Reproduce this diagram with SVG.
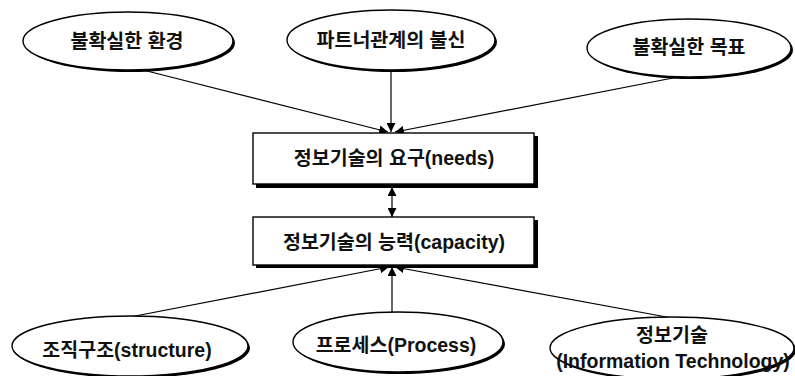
<svg xmlns="http://www.w3.org/2000/svg" width="795" height="376" viewBox="0 0 795 376">
<style>
.sh{fill:#000}
.el{fill:#fff;stroke:#000;stroke-width:1.4}
.bx{fill:#fff;stroke:#000;stroke-width:1.4}
.t{font-family:"Liberation Sans","Noto Sans CJK KR",sans-serif;font-size:19.5px;font-weight:bold;fill:#111;text-anchor:middle;dominant-baseline:central}
.c{stroke:#000;stroke-width:1.2;fill:none}
</style>
<defs>
<marker id="ah" viewBox="0 0 10 10" refX="10" refY="5" markerWidth="9" markerHeight="9" markerUnits="userSpaceOnUse" orient="auto-start-reverse">
<path d="M0,0 L10,5 L0,10 z" fill="#000"/>
</marker>
</defs>
<g id="connectors">
<line class="c" x1="143" y1="70" x2="388" y2="132" marker-end="url(#ah)"/>
<line class="c" x1="391" y1="71" x2="391" y2="132" marker-end="url(#ah)"/>
<line class="c" x1="678" y1="77" x2="395" y2="132" marker-end="url(#ah)"/>
<line class="c" x1="392" y1="187" x2="392" y2="217" marker-start="url(#ah)" marker-end="url(#ah)"/>
<line class="c" x1="130" y1="317" x2="389" y2="267" marker-end="url(#ah)"/>
<line class="c" x1="392" y1="312" x2="392" y2="267" marker-end="url(#ah)"/>
<line class="c" x1="672" y1="318" x2="395" y2="267" marker-end="url(#ah)"/>
</g>
<g id="n1">
<ellipse class="sh" cx="130" cy="43" rx="105" ry="29"/>
<ellipse class="el" cx="128" cy="41" rx="105" ry="29"/>
<text class="t" x="127" y="41">불확실한 환경</text>
</g>
<g id="n2">
<ellipse class="sh" cx="393" cy="42" rx="104" ry="30"/>
<ellipse class="el" cx="391" cy="40" rx="104" ry="30"/>
<text class="t" x="391" y="40">파트너관계의 불신</text>
</g>
<g id="n3">
<ellipse class="sh" cx="691" cy="50" rx="102" ry="29"/>
<ellipse class="el" cx="689" cy="48" rx="102" ry="29"/>
<text class="t" x="689" y="47">불확실한 목표</text>
</g>
<g id="needs">
<rect class="sh" x="256" y="136" width="282" height="52"/>
<rect class="bx" x="253" y="133" width="281" height="51"/>
<text class="t" x="394" y="158">정보기술의 요구(needs)</text>
</g>
<g id="capacity">
<rect class="sh" x="256" y="220" width="282" height="48"/>
<rect class="bx" x="253" y="217" width="281" height="48"/>
<text class="t" x="394" y="242">정보기술의 능력(capacity)</text>
</g>
<g id="n4">
<ellipse class="sh" cx="132" cy="348" rx="118" ry="30"/>
<ellipse class="el" cx="130" cy="346" rx="118" ry="30"/>
<text class="t" x="127" y="350">조직구조(structure)</text>
</g>
<g id="n5">
<ellipse class="sh" cx="400" cy="344" rx="105" ry="30"/>
<ellipse class="el" cx="398" cy="342" rx="105" ry="30"/>
<text class="t" x="396" y="345">프로세스(Process)</text>
</g>
<g id="n6">
<ellipse class="sh" cx="674" cy="350" rx="122" ry="31"/>
<ellipse class="el" cx="672" cy="348" rx="122" ry="31"/>
<text class="t" x="672" y="335">정보기술</text>
<text class="t" x="673" y="361">(Information Technology)</text>
</g>
</svg>
